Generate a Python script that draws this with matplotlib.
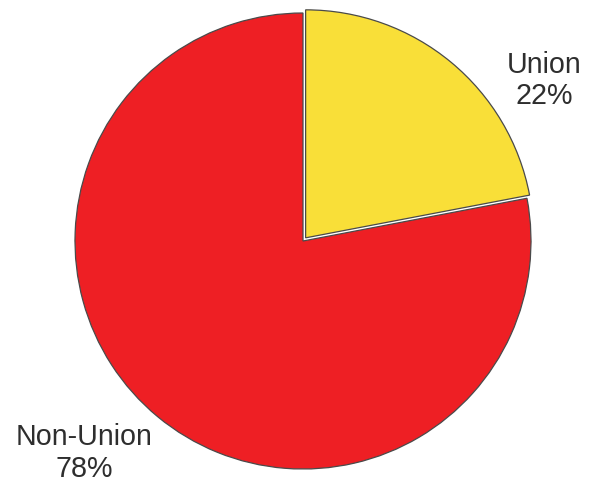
import matplotlib
matplotlib.use('Agg')
import matplotlib.pyplot as plt
import numpy as np

# union membership share
labels = ['Union', 'Non-Union']
shares = [22, 78]
colors = ['#F9DF38', '#EE1F24']
explode = [0.018, 0]

# label centres, in pie radius units
label_pos = [(1.057, 0.708), (-0.96, -0.925)]

fig = plt.figure(figsize=(5.92, 4.85), dpi=100)
ax = fig.add_axes([0, 0, 1, 1])

wedges, _ = ax.pie(shares, colors=colors, explode=explode, startangle=90,
                   counterclock=False,
                   wedgeprops=dict(edgecolor='#4a4a4a', linewidth=0.9))

for name, val, (x, y) in zip(labels, shares, label_pos):
    ax.text(x, y, '{}\n{}%'.format(name, val), ha='center', va='center',
            fontsize=20.6, color='#2e2e2e', family='Liberation Sans',
            linespacing=1.17)

# place the pie: centre at (303, 242) px, radius 228 px
r = 228.0
ax.set_xlim(-303 / r, (592 - 303) / r)
ax.set_ylim(-(485 - 242) / r, 242 / r)
ax.axis('off')

fig.savefig('out.png', dpi=100)
